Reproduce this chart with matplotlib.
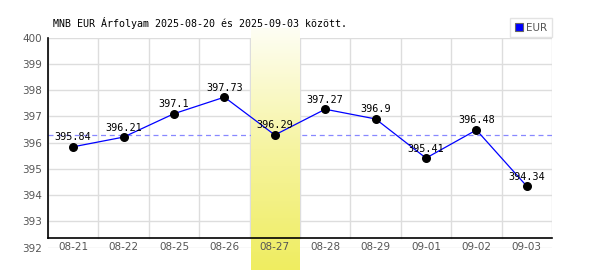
import numpy as np
import matplotlib
matplotlib.use("Agg")
import matplotlib.pyplot as plt
from matplotlib.patches import Patch
from matplotlib.colors import LinearSegmentedColormap

dates = ["08-21", "08-22", "08-25", "08-26", "08-27", "08-28", "08-29", "09-01", "09-02", "09-03"]
values = [395.84, 396.21, 397.1, 397.73, 396.29, 397.27, 396.9, 395.41, 396.48, 394.34]
labels = ["395.84", "396.21", "397.1", "397.73", "396.29", "397.27", "396.9", "395.41", "396.48", "394.34"]
yticks = [392, 393, 394, 395, 396, 397, 398, 399, 400]
avg_value = 396.29
highlight = "08-27"
title = "MNB EUR Árfolyam 2025-08-20 és 2025-09-03 között."
series_name = "EUR"

W, H = 600, 270
fig = plt.figure(figsize=(6, 2.7), dpi=100)
L, R, T, B = 48, 552, 37.5, 247.7
ax = fig.add_axes([L / W, 1 - B / H, (R - L) / W, (B - T) / H])

ymin, ymax = 392, 400
ppu = (B - T) / (ymax - ymin)
axis_y = ymax - (238.3 - T) / ppu
x = np.arange(len(dates))

# grid
for yv in yticks:
    ax.axhline(yv, color="#dddddd", lw=1, zorder=0.1)
for xv in np.arange(-0.5, len(dates), 1.0):
    ax.plot([xv, xv], [axis_y, ymax], color="#dddddd", lw=1, zorder=0.1)

# average line
ax.axhline(avg_value, color="#8888ff", lw=0.9, ls=(0, (4, 3)), zorder=0.2)

# highlight band
hi = dates.index(highlight)
cmap = LinearSegmentedColormap.from_list("hl", ["#fefef4", "#f6f4a0", "#efed60"])
grad = np.linspace(0, 1, 256).reshape(-1, 1)
y_bot = ymax - (H - T) / ppu
y_top = ymax + (T - 28) / ppu
im = ax.imshow(grad, cmap=cmap, aspect="auto", origin="upper",
               extent=[hi - 0.48, hi + 0.48, y_bot, y_top], zorder=0.5)
im.set_clip_on(False)

# line and points
ax.plot(x, values, color="#0000ff", lw=0.9, zorder=4)
ax.scatter(x, values, s=30, color="black", zorder=5)
for xi, v, lab in zip(x, values, labels):
    ax.annotate(lab, (xi, v), xytext=(0, 4.7), textcoords="offset points",
                ha="center", va="baseline", fontsize=7.3,
                family="DejaVu Sans Mono", color="black", zorder=6)

ax.set_xlim(-0.5, len(dates) - 0.5)
ax.set_ylim(ymin, ymax)
ax.set_xticks(x)
ax.set_xticklabels(dates)
ax.set_yticks(yticks)
ax.tick_params(length=0, labelsize=7.5, colors="#555555", pad=4.5)
ax.tick_params(axis="x", pad=3)
for s in ["top", "right"]:
    ax.spines[s].set_visible(False)
ax.spines["bottom"].set_position(("data", axis_y))
ax.spines["left"].set_bounds(axis_y, ymax)
for s in ["bottom", "left"]:
    ax.spines[s].set_color("black")
    ax.spines[s].set_linewidth(1.2)
ax.patch.set_alpha(0)

fig.text(53 / W, 1 - 23 / H, title, fontsize=7.2, family="DejaVu Sans Mono",
         ha="left", va="center", color="black")

h = Patch(facecolor="#0000ff", edgecolor="#666666", lw=0.8)
leg = fig.legend([h], [series_name], loc="upper right",
                 bbox_to_anchor=(552 / W, 1 - 18 / H), frameon=True, fancybox=False,
                 fontsize=7.5, handlelength=0.8, handleheight=0.8, handletextpad=0.3,
                 borderpad=0.45, borderaxespad=0)
leg.get_frame().set_edgecolor("#dddddd")
leg.get_frame().set_linewidth(1)
for t in leg.get_texts():
    t.set_color("#555555")

fig.savefig("out.png", dpi=100)
